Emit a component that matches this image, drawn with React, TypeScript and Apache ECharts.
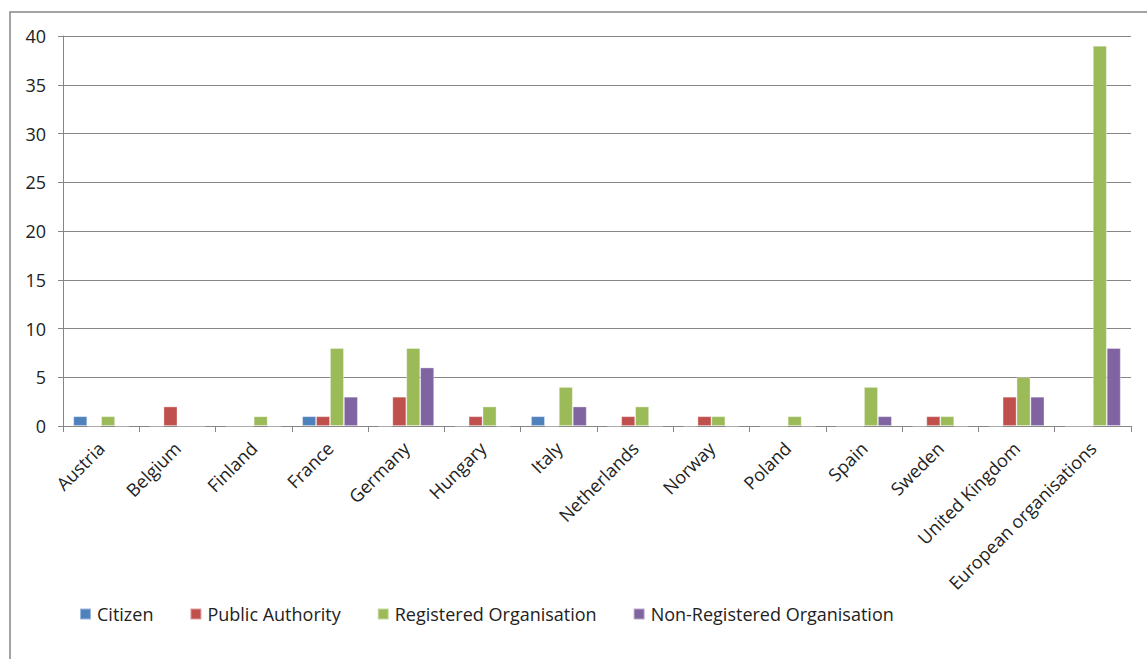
import React, { useEffect, useRef } from "react";
import * as echarts from "echarts";

const categories = [
  "Austria", "Belgium", "Finland", "France", "Germany", "Hungary", "Italy",
  "Netherlands", "Norway", "Poland", "Spain", "Sweden", "United Kingdom", "European organisations",
];
const citizen = [1, 0, 0, 1, 0, 0, 1, 0, 0, 0, 0, 0, 0, 0];
const publicAuthority = [0, 2, 0, 1, 3, 1, 0, 1, 1, 0, 0, 1, 3, 0];
const registeredOrg = [1, 0, 1, 8, 8, 2, 4, 2, 1, 1, 4, 1, 5, 39];
const nonRegisteredOrg = [0, 0, 0, 3, 6, 0, 2, 0, 0, 0, 1, 0, 3, 8];
const seriesNames = ["Citizen", "Public Authority", "Registered Organisation", "Non-Registered Organisation"];
const colors = ["#4F81BD", "#C0504D", "#9BBB59", "#8064A2"];

export default function App() {
  const ref = useRef<HTMLDivElement>(null);
  useEffect(() => {
    if (!ref.current) return;
    const chart = echarts.init(ref.current, undefined, { renderer: "svg" });
    const font = "'Open Sans', sans-serif";
    const dataSets = [citizen, publicAuthority, registeredOrg, nonRegisteredOrg];
    chart.setOption({
      animation: false,
      backgroundColor: "#ffffff",
      textStyle: { fontFamily: font },
      graphic: [
        {
          type: "rect",
          shape: { x: 10, y: 12, width: 1200, height: 700 },
          style: { fill: "none", stroke: "#868686", lineWidth: 1.5 },
          silent: true,
        },
      ],
      legend: {
        left: 74,
        top: 600,
        itemWidth: 11,
        itemHeight: 11,
        itemGap: 36,
        icon: "rect",
        textStyle: { fontSize: 18, color: "#222", fontFamily: font, padding: [0, 0, 0, 1] },
        data: seriesNames,
      },
      grid: { left: 63, right: 16, top: 36, bottom: 233, containLabel: false },
      xAxis: {
        type: "category",
        data: categories,
        axisLine: { lineStyle: { color: "#868686", width: 1 } },
        axisTick: { show: true, length: 6, alignWithLabel: false, lineStyle: { color: "#868686" } },
        axisLabel: {
          rotate: 45,
          interval: 0,
          fontSize: 18,
          color: "#222",
          fontFamily: font,
          margin: 19,
        },
      },
      yAxis: {
        type: "value",
        min: 0,
        max: 40,
        interval: 5,
        axisLine: { show: true, lineStyle: { color: "#868686", width: 1 } },
        axisTick: { show: true, length: 5, lineStyle: { color: "#868686" } },
        splitLine: { show: true, lineStyle: { color: "#868686", width: 1 } },
        axisLabel: { fontSize: 18, color: "#222", fontFamily: font, margin: 17 },
      },
      series: seriesNames.map((name, i) => ({
        name,
        type: "bar",
        data: dataSets[i],
        barGap: "0%",
        barCategoryGap: "27%",
        itemStyle: { color: colors[i], borderColor: "rgba(255,255,255,0.45)", borderWidth: 0.8 },
      })),
    });
    return () => chart.dispose();
  }, []);
  return (
    <div
      ref={ref}
      style={{ position: "fixed", left: 0, top: 0, width: 1147, height: 659 }}
    />
  );
}
